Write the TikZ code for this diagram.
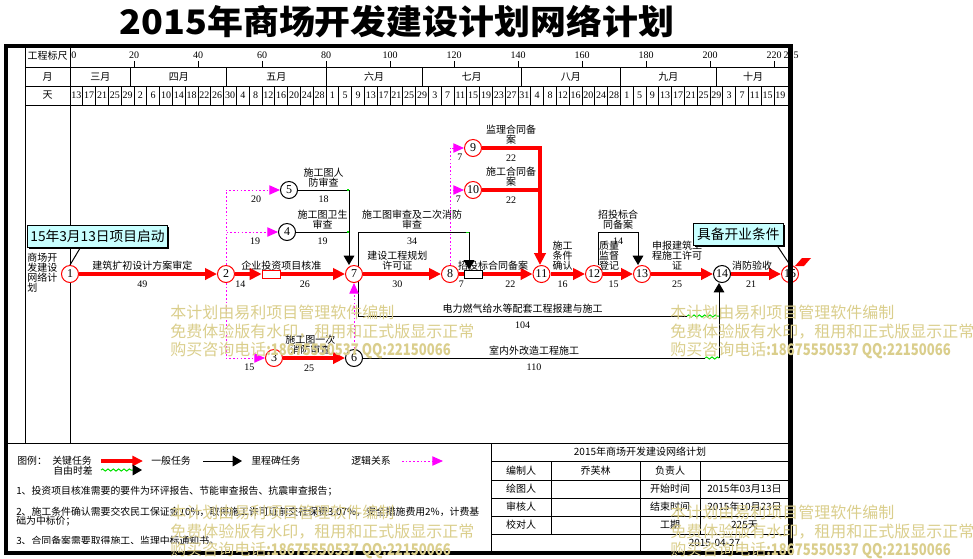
\documentclass[tikz,border=0pt]{standalone}
\usepackage{graphicx}
\usepackage{fontspec}
\setmainfont{Noto Sans CJK SC}
\newfontfamily\numfont{Liberation Serif}
\usetikzlibrary{arrows.meta,decorations.pathmorphing,shadows}

\definecolor{critred}{RGB}{255,0,0}
\definecolor{logicmag}{RGB}{255,0,255}
\definecolor{floatgreen}{RGB}{0,225,0}
\definecolor{notecyan}{RGB}{200,255,255}
\definecolor{wmark}{RGB}{218,206,140}

\begin{document}
\begin{tikzpicture}[x=0.75pt,y=-0.75pt,
  event/.style={circle,draw=critred,fill=white,line width=0.75pt,inner sep=0pt,
    minimum size=12.75pt,font=\numfont\fontsize{9}{9}\selectfont},
  norm event/.style={event,draw=black},
  crit task/.style={draw=critred,line width=3pt,-{Triangle[length=9pt,width=8.5pt]}},
  crit seg/.style={draw=critred,line width=3pt},
  norm task/.style={draw=black,line width=0.75pt,-{Triangle[length=7pt,width=8pt]}},
  norm seg/.style={draw=black,line width=0.75pt},
  logic link/.style={draw=logicmag,line width=0.75pt,dash pattern=on 1.2pt off 1.6pt,
    -{Triangle[length=8pt,width=7pt]}},
  free float/.style={draw=floatgreen,line width=0.75pt,decorate,
    decoration={snake,segment length=4pt,amplitude=0.8pt}},
  task name/.style={above=0.5pt,align=center,inner sep=1pt,
    font=\fontsize{7.5}{7.5}\selectfont},
  task days/.style={below=3pt,inner sep=1pt,font=\numfont\fontsize{7.5}{7.5}\selectfont},
  grid line/.style={draw=black,line width=0.75pt},
  head text/.style={inner sep=0pt,font=\fontsize{7.5}{7.5}\selectfont},
  day text/.style={inner sep=0pt,font=\numfont\fontsize{7.5}{7.5}\selectfont},
  marker box/.style={rectangle,draw=critred,fill=white,line width=0.75pt,inner sep=0pt,
    minimum width=14pt,minimum height=6pt},
  callout/.style={rectangle,draw=black,fill=notecyan,line width=0.75pt,inner sep=2pt,
    font=\fontsize{10.3}{10.3}\selectfont,
    drop shadow={shadow xshift=1.2pt,shadow yshift=-1.2pt,fill=black,opacity=1}},
  legend text/.style={anchor=west,inner sep=0pt,font=\fontsize{7.4}{7.4}\selectfont},
  wmark text/.style={anchor=west,align=left,inner sep=0pt,text=wmark,
    font=\fontsize{12}{13.9}\selectfont}]

  \useasboundingbox (0,0) rectangle (973,558);

  % title
  \node (Title) at (397,22) {\resizebox{416pt}{22pt}{\bfseries 2015年商场开发建设计划网络计划}};

  % time scale rows
  \draw[grid line] (25,46) -- (25,443);
  \draw[grid line] (70,46) -- (70,443);
  \draw[grid line] (25,67) -- (790,67);
  \draw[grid line] (25,86) -- (790,86);
  \draw[grid line] (25,105) -- (790,105);
  \node[head text] (HScale) at (47.5,56) {工程标尺};
  \node[head text] (HMonth) at (47.5,76.5) {月};
  \node[head text] (HDay) at (47.5,95.5) {天};

  \node[day text,anchor=west] (S0) at (71,55) {0};
  \foreach \dd in {20,40,...,220}{
    \draw[grid line] ({70+3.2*\dd},61) -- ({70+3.2*\dd},67);
    \node[day text] (S\dd) at ({70+3.2*\dd},55) {\dd};
  }
  \node[day text] (S225) at (791,55) {225};

  \foreach \ma/\mb/\mn in {0/19/三月,19/49/四月,49/80/五月,80/110/六月,
      110/141/七月,141/172/八月,172/202/九月,202/225/十月}{
    \draw[grid line] ({70+3.2*\mb},67) -- ({70+3.2*\mb},86);
    \node[head text] (M\ma) at ({70+1.6*(\ma+\mb)},76.5) {\mn};
  }

  \foreach \dl [count=\i from 0] in {13,17,21,25,29,2,6,10,14,18,22,26,30,4,8,12,16,20,24,28,
      1,5,9,13,17,21,25,29,3,7,11,15,19,23,27,31,4,8,12,16,20,24,28,
      1,5,9,13,17,21,25,29,3,7,11,15,19}{
    \node[day text] (D\i) at ({76.4+12.8*\i},95.5) {\dl};
    \ifnum\i>0 \draw[grid line] ({70+12.8*\i},86) -- ({70+12.8*\i},105);\fi
  }

  \node[head text,align=left,anchor=west] (Proj) at (27,273) {商场开\\发建设\\网络计\\划};

  % bend points of the network
  \coordinate (C57) at (349,190);
  \coordinate (C47) at (349,232);
  \coordinate (C7T) at (358,232);
  \coordinate (C7B) at (358,316);
  \coordinate (C78) at (466,232);
  \coordinate (C78a) at (469,232);
  \coordinate (C911) at (540,148);
  \coordinate (C1011) at (540,190);
  \coordinate (C12L) at (598,232);
  \coordinate (C12R) at (638,232);
  \coordinate (C714) at (687,316);
  \coordinate (C614) at (705,358);
  \coordinate (C14V) at (719,358);

  % runs behind event 7
  \draw[norm seg] (C7T) -- (C7B);

  % events
  \node[event] (E1) at (70,274) {1};
  \node[event] (E2) at (226,274) {2};
  \node[event] (E3) at (274,358) {3};
  \node[norm event] (E4) at (287,232) {4};
  \node[norm event] (E5) at (289,190) {5};
  \node[norm event] (E6) at (354,358) {6};
  \node[event] (E7) at (354,274) {7};
  \node[event] (E8) at (450,274) {8};
  \node[event] (E9) at (473,148) {9};
  \node[event] (E10) at (473,190) {10};
  \node[event] (E11) at (541.5,274) {11};
  \node[event] (E12) at (594,274) {12};
  \node[event] (E13) at (642,274) {13};
  \node[norm event] (E14) at (722,274) {14};
  \node[event] (E15) at (790,274) {15};
  \node[marker box] (M1) at (271.5,274) {};
  \node[marker box,draw=black,minimum width=13.8pt] (M2) at (473.5,274) {};

  % critical chain
  \draw[crit task] (E1) -- node[task name,pos=0.46] {建筑扩初设计方案审定}
    node[task days,pos=0.46] {49} (E2);
  \draw[crit task] (E2) -- node[task days,pos=0.2] {14} (M1);
  \draw[crit task] (M1) -- node[task name,pos=0] {企业投资项目核准}
    node[task days,pos=0.37] {26} (E7);
  \draw[crit task] (E7) -- node[task name,pos=0.44] {建设工程规划\\许可证}
    node[task days,pos=0.44] {30} (E8);
  \draw[crit seg] (E8) -- node[task days] {7} (M2);
  \draw[crit task] (M2) -- node[task name,pos=0.2] {招投标合同备案}
    node[task days,pos=0.55] {22} (E11);
  \draw[crit task] (E11) -- node[task name,pos=0.35] {施工\\条件\\确认}
    node[task days,pos=0.35] {16} (E12);
  \draw[crit task] (E12) -- node[task name,pos=0.2] {质量\\监督\\登记}
    node[task days,pos=0.35] {15} (E13);
  \draw[crit task] (E13) -- node[task name,pos=0.42] {申报建筑工\\程施工许可\\证}
    node[task days,pos=0.42] {25} (E14);
  \draw[crit task] (E14) -- node[task name,pos=0.42] {消防验收}
    node[task days,pos=0.4] {21} (E15);
  \draw[crit task] (E3) -- node[task name,pos=0.44] {施工图一次\\消防审查}
    node[task days,pos=0.42] {25} (E6);
  \draw[crit task] (E9) -- node[task name] {监理合同备\\案} node[task days] {22} (C911)
    -- (C911 |- E11.north);
  \draw[crit seg] (E10) -- node[task name] {施工合同备\\案} node[task days] {22} (C1011);

  % general tasks
  \draw[norm seg] (E5) -- node[task name] {施工图人\\防审查} node[task days] {18} (C57);
  \draw[norm seg] (E4) -- node[task name] {施工图卫生\\审查} node[task days] {19} (C47);
  \draw[norm task] (C57) -- (C57 |- E7.north);
  \draw[norm seg] (C7T) -- node[task name] {施工图审查及二次消防\\审查}
    node[task days] {34} (C78);
  \draw[norm task] (C78a) -- (C78a |- M2.north);
  \draw[norm seg] (C7B) -- node[task name] {电力燃气给水等配套工程报建与施工}
    node[task days] {104} (C714);
  \draw[norm seg] (E6) -- node[task name] {室内外改造工程施工}
    node[task days] {110} (C614);
  \draw[norm task] (C14V) -- (C14V |- E14.south);
  \draw[norm task] (C12L |- E12.north) -- (C12L) -- node[task name] {招投标合\\同备案}
    node[task days] {14} (C12R) -- (C12R |- E13.north);

  % free floats
  \draw[free float] (C714) -- (C714 -| C14V);
  \draw[free float] (C614) -- (C14V);
  \draw[draw=floatgreen,line width=0.75pt] (C78) -- (C78a);
  \draw[draw=floatgreen,line width=1pt] ([xshift=-1.5pt]C57) -- (C57);
  \draw[draw=floatgreen,line width=1pt] ([xshift=-1.5pt]C47) -- (C47);

  % logic links
  \draw[logic link] (E2.north) |- node[task days,pos=0.78] {20} (E5.west);
  \draw[logic link] (E2.north) |- node[task days,pos=0.78] {19} (E4.west);
  \draw[logic link] (E2.south) |- node[task days,pos=0.8] {15} (E3.west);
  \draw[logic link] (E6) -- (E7);
  \draw[logic link] (E8.north) |- node[task days,pos=0.85] {7} (E9.west);
  \draw[logic link] (E8.north) |- node[task days,pos=0.8] {7} (E10.west);

  % call-outs
  \node[callout,minimum width=105pt,minimum height=16pt] (Start) at (97.5,236.5)
    {15年3月13日项目启动};
  \draw[norm seg] ([xshift=40pt]Start.south west) -- (E1.north);
  \node[callout,minimum width=67.5pt,minimum height=16.3pt] (Ready) at (738.3,234.2)
    {具备开业条件};
  \draw[norm seg] ([xshift=-5pt]Ready.south east) -- (E15.north);

  % legend
  \draw[grid line] (6,443) -- (790,443);
  \node[legend text] (LgHead) at (17,461) {图例：};
  \node[legend text] (LgCrit) at (52,461) {关键任务};
  \draw[crit seg,-{Triangle[length=8pt,width=7.5pt]}] (101,461) -- (143,461);
  \node[legend text] (LgFloat) at (53,471) {自由时差};
  \draw[free float] (101,470) -- (133,470);
  \draw[norm task] (133,470) -- (142,470);
  \node[legend text] (LgNorm) at (151,461) {一般任务};
  \draw[norm task] (203,461) -- (242,461);
  \node[legend text] (LgMile) at (251,461) {里程碑任务};
  \node[legend text] (LgLogic) at (351,461) {逻辑关系};
  \draw[logic link] (402,461) -- (443,461);
  \node[legend text] (Note1) at (16,491)
    {1、投资项目核准需要的要件为环评报告、节能审查报告、抗震审查报告；};
  \node[legend text] (Note2) at (16,511.5)
    {2、施工条件确认需要交农民工保证金10\%，取得施工许可证前交社保费3.07\%，安全措施费用2\%，计费基};
  \node[legend text] (Note2b) at (16,521) {础为中标价；};
  \begin{scope}
    \clip (6,530) rectangle (491,543);
    \node[legend text] (Note3) at (16,541) {3、合同备案需要取得施工、监理中标通知书。};
  \end{scope}

  % title block
  \draw[grid line] (491,443) -- (491,553);
  \foreach \ty in {461,480,498,516,534} \draw[grid line] (491,\ty) -- (790,\ty);
  \draw[grid line] (551,461) -- (551,534);
  \draw[grid line] (640,461) -- (640,553);
  \draw[grid line] (700,461) -- (700,534);
  \node[head text] (TbName) at (640,452) {2015年商场开发建设网络计划};
  \node[head text] (TbA1) at (521,470.5) {编制人};
  \node[head text] (TbB1) at (595.5,470.5) {乔芙林};
  \node[head text] (TbC1) at (670,470.5) {负责人};
  \node[head text] (TbA2) at (521,489) {绘图人};
  \node[head text] (TbC2) at (670,489) {开始时间};
  \node[head text] (TbD2) at (744.5,489) {2015年03月13日};
  \node[head text] (TbA3) at (521,507) {审核人};
  \node[head text] (TbC3) at (670,507) {结束时间};
  \node[head text] (TbD3) at (744.5,507) {2015年10月23日};
  \node[head text] (TbA4) at (521,525) {校对人};
  \node[head text] (TbC4) at (670,525) {工期};
  \node[head text] (TbD4) at (744.5,525) {225天};
  \node[head text] (TbDate) at (714.5,542.5) {2015-04-27};

  % outer frame, over event 15
  \draw[line width=3.5pt] (6,46) rectangle (790.5,553);
  \fill[critred] (795,266) -- (802,258) -- (811,258) -- (804,266) -- cycle;

  % watermark of the trial version
  \foreach \wx/\wy [count=\k] in {170/332,670/332,170/532,670/532}
    \node[wmark text] (WM\k) at (\wx,\wy) {本计划由易利项目管理软件编制\\
      免费体验版有水印，租用和正式版显示正常\\购买咨询电话\scalebox{0.82}[1]{\textbf{:18675550537 QQ:22150066}}};
\end{tikzpicture}
\end{document}
